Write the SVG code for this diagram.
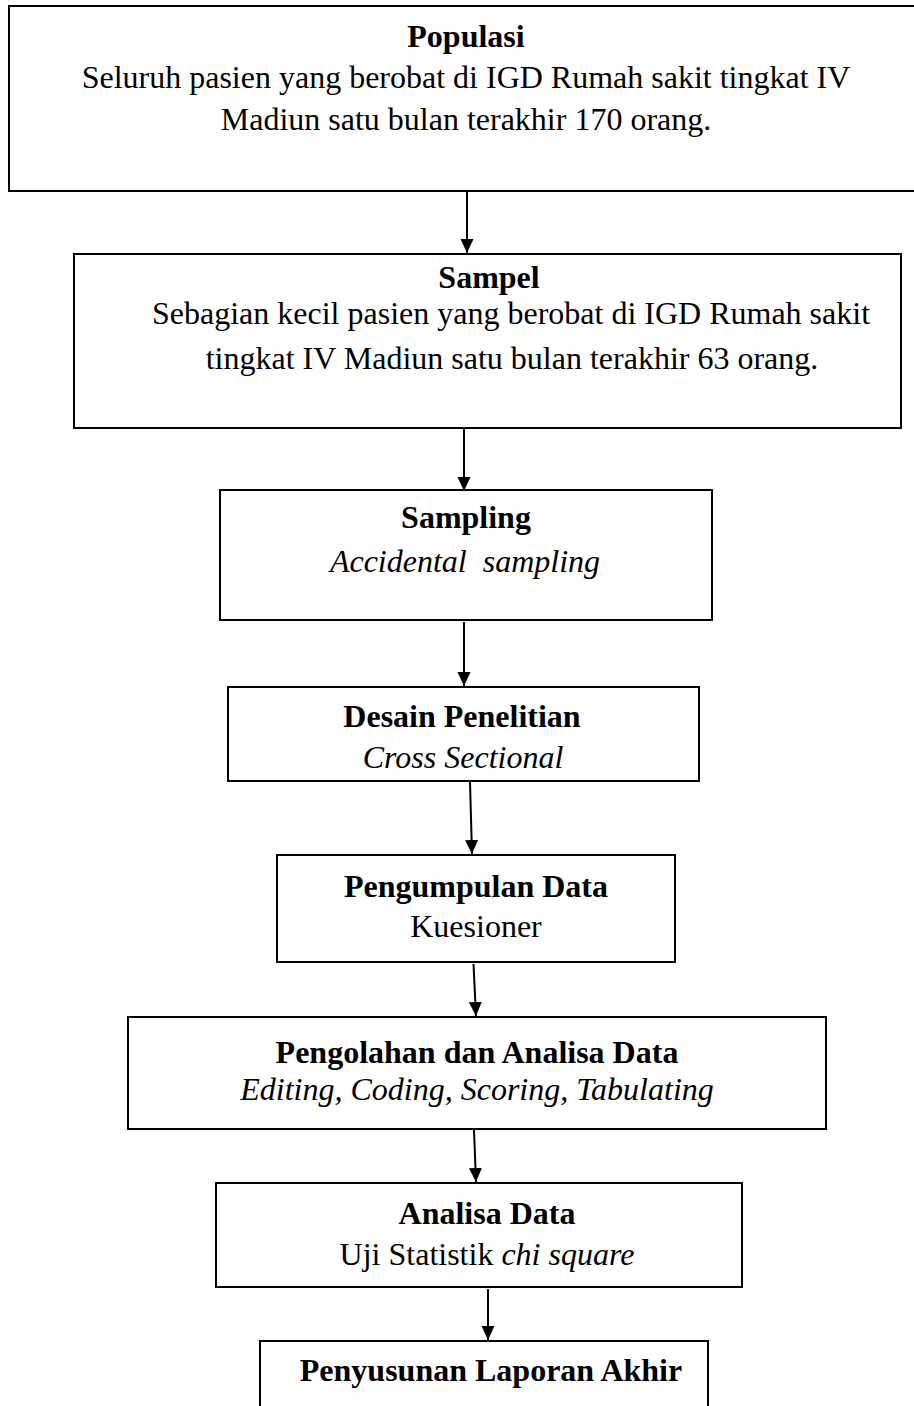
<svg xmlns="http://www.w3.org/2000/svg" width="914" height="1406" viewBox="0 0 914 1406">
<style>
.box{fill:#fff;stroke:#000;stroke-width:2}
.t{font-family:"Liberation Serif","Times New Roman",serif;font-size:32px;fill:#000;text-anchor:middle}
.b{font-weight:bold}
.i{font-style:italic}
.conn{stroke:#000;stroke-width:2;fill:none;marker-end:url(#ah)}
</style>
<defs>
<marker id="ah" markerUnits="userSpaceOnUse" markerWidth="14" markerHeight="14" refX="14" refY="7" orient="auto">
<path d="M0,0.5 L14,7 L0,13.5 z" fill="#000"/>
</marker>
</defs>
<rect width="914" height="1406" fill="#fff"/>
<g id="populasi">
<rect class="box" x="9" y="6" width="920" height="185"/>
<text class="t b" x="466" y="47">Populasi</text>
<text class="t" x="466" y="88">Seluruh pasien yang berobat di IGD Rumah sakit tingkat IV</text>
<text class="t" x="466" y="130">Madiun satu bulan terakhir 170 orang.</text>
</g>
<g id="sampel">
<rect class="box" x="74" y="254" width="827" height="174"/>
<text class="t b" x="489" y="288">Sampel</text>
<text class="t" x="511" y="324">Sebagian kecil pasien yang berobat di IGD Rumah sakit</text>
<text class="t" x="512" y="369">tingkat IV Madiun satu bulan terakhir 63 orang.</text>
</g>
<g id="sampling">
<rect class="box" x="220" y="490" width="492" height="130"/>
<text class="t b" x="466" y="528">Sampling</text>
<text class="t i" x="465" y="572" xml:space="preserve">Accidental  sampling</text>
</g>
<g id="desain">
<rect class="box" x="228" y="687" width="471" height="94"/>
<text class="t b" x="462" y="727">Desain Penelitian</text>
<text class="t i" x="463" y="768">Cross Sectional</text>
</g>
<g id="pengumpulan">
<rect class="box" x="277" y="855" width="398" height="107"/>
<text class="t b" x="476" y="897">Pengumpulan Data</text>
<text class="t" x="476" y="937">Kuesioner</text>
</g>
<g id="pengolahan">
<rect class="box" x="128" y="1017" width="698" height="112"/>
<text class="t b" x="477" y="1063">Pengolahan dan Analisa Data</text>
<text class="t i" x="477" y="1100">Editing, Coding, Scoring, Tabulating</text>
</g>
<g id="analisa">
<rect class="box" x="216" y="1183" width="526" height="104"/>
<text class="t b" x="487" y="1224">Analisa Data</text>
<text class="t" x="487" y="1265">Uji Statistik <tspan class="i">chi square</tspan></text>
</g>
<g id="laporan">
<rect class="box" x="260" y="1341" width="448" height="80"/>
<text class="t b" x="491" y="1381">Penyusunan Laporan Akhir</text>
</g>
<g id="connectors">
<line class="conn" x1="467" y1="192" x2="467" y2="253"/>
<line class="conn" x1="464" y1="429" x2="464" y2="491"/>
<line class="conn" x1="464" y1="622" x2="464" y2="686"/>
<line class="conn" x1="470" y1="782" x2="472" y2="854"/>
<line class="conn" x1="473.5" y1="964" x2="476" y2="1016"/>
<line class="conn" x1="474" y1="1130" x2="476" y2="1182"/>
<line class="conn" x1="488" y1="1289" x2="488" y2="1340"/>
</g>
</svg>
